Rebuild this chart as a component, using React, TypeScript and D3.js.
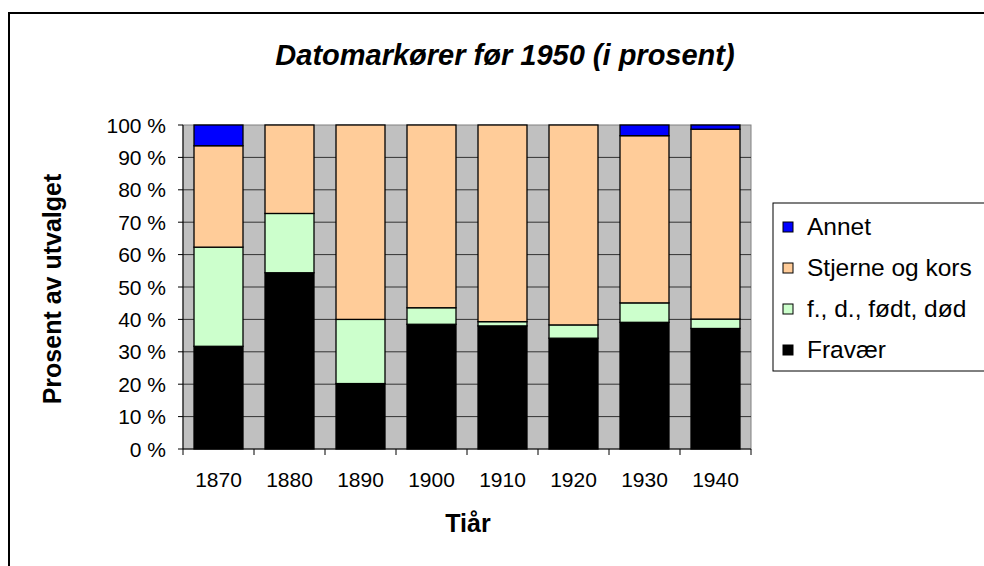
import React from "react";
import * as d3 from "d3";

const categories = ["1870", "1880", "1890", "1900", "1910", "1920", "1930", "1940"];
const fravaer = [31.7, 54.4, 20.2, 38.5, 38.0, 34.2, 39.1, 37.2];
const fdFodtDod = [30.6, 18.3, 19.8, 5.1, 1.3, 4.1, 6.0, 2.9];
const stjerneOgKors = [31.3, 27.3, 60.0, 56.4, 60.7, 61.7, 51.6, 58.6];
const annet = [6.4, 0, 0, 0, 0, 0, 3.3, 1.3];
const yTicks = [0, 10, 20, 30, 40, 50, 60, 70, 80, 90, 100];

const seriesKeys = ["Fravær", "f., d., født, død", "Stjerne og kors", "Annet"];
const seriesColors = ["#000000", "#ccffcc", "#ffcc99", "#0000ff"];
const legendOrder = [3, 2, 1, 0];

const FONT = "Arial, 'Liberation Sans', sans-serif";

export default function App() {
  const left = 183, right = 751, top = 125, bottom = 449;
  const x = d3.scaleBand<string>().domain(categories).range([left, right]).paddingInner(0.31).paddingOuter(0.155);
  const y = d3.scaleLinear().domain([0, 100]).range([bottom, top]);
  const rows = categories.map((c, i) => ({
    cat: c,
    "Fravær": fravaer[i],
    "f., d., født, død": fdFodtDod[i],
    "Stjerne og kors": stjerneOgKors[i],
    "Annet": annet[i],
  }));
  const stacked = d3.stack<any>().keys(seriesKeys)(rows);
  const step = x.step();
  const bandEdges = categories.map((_, i) => left + i * step).concat([right]);

  return (
    <svg width={984} height={566} style={{ position: "absolute", left: 0, top: 0, background: "#fff" }}>
      <rect x={9} y={13} width={1000} height={600} fill="#fff" stroke="#000" strokeWidth={2} />
      <text x={505} y={65} textAnchor="middle" fontFamily={FONT} fontWeight="bold" fontStyle="italic" fontSize={29}>
        Datomarkører før 1950 (i prosent)
      </text>
      <rect x={left} y={top} width={right - left} height={bottom - top} fill="#c0c0c0" stroke="#808080" strokeWidth={1} />
      {yTicks.filter((t) => t > 0 && t < 100).map((t) => (
        <line key={t} x1={left} x2={right} y1={y(t)} y2={y(t)} stroke="#333" strokeWidth={1} />
      ))}
      {stacked.map((s, si) =>
        s.map((d, i) =>
          d[1] - d[0] > 0 ? (
            <rect
              key={si + "-" + i}
              x={x(categories[i])}
              y={y(d[1])}
              width={x.bandwidth()}
              height={y(d[0]) - y(d[1])}
              fill={seriesColors[si]}
              stroke="#000"
              strokeWidth={1.3}
            />
          ) : null
        )
      )}
      <line x1={left} x2={left} y1={top} y2={bottom} stroke="#000" strokeWidth={1} />
      {yTicks.map((t) => (
        <g key={t}>
          <line x1={left - 5} x2={left} y1={y(t)} y2={y(t)} stroke="#000" />
          <text x={166} y={y(t) + 7.5} textAnchor="end" fontFamily={FONT} fontSize={21}>
            {t + " %"}
          </text>
        </g>
      ))}
      <line x1={left} x2={right} y1={bottom} y2={bottom} stroke="#000" strokeWidth={1} />
      {bandEdges.map((e, i) => (
        <line key={i} x1={e} x2={e} y1={bottom} y2={bottom + 6} stroke="#000" />
      ))}
      {categories.map((c) => (
        <text key={c} x={(x(c) as number) + x.bandwidth() / 2} y={487} textAnchor="middle" fontFamily={FONT} fontSize={21}>
          {c}
        </text>
      ))}
      <text x={468} y={532} textAnchor="middle" fontFamily={FONT} fontWeight="bold" fontSize={25}>
        Tiår
      </text>
      <text transform="translate(61,289) rotate(-90)" textAnchor="middle" fontFamily={FONT} fontWeight="bold" fontSize={25}>
        Prosent av utvalget
      </text>
      <rect x={773} y={203} width={230} height={168} fill="#fff" stroke="#000" strokeWidth={1} />
      {legendOrder.map((si, k) => (
        <g key={si}>
          <rect x={783} y={222 + k * 41} width={10} height={10} fill={seriesColors[si]} stroke="#000" strokeWidth={1} />
          <text x={807} y={235 + k * 41} fontFamily={FONT} fontSize={24.5}>
            {seriesKeys[si]}
          </text>
        </g>
      ))}
    </svg>
  );
}
